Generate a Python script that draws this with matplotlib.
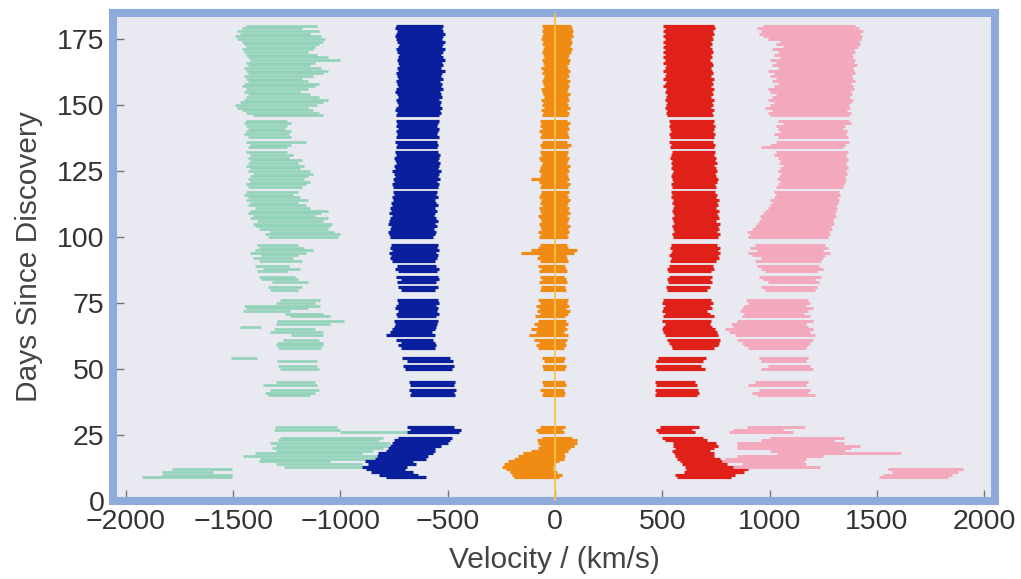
import numpy as np
import matplotlib
matplotlib.use("Agg")
import matplotlib.pyplot as plt

plt.rcParams['font.family'] = ['Liberation Sans', 'DejaVu Sans']

# observation days
days = [9, 10, 11, 12, 13, 14, 15, 16, 17, 18, 19, 20, 21, 22, 23, 24, 26, 27, 28,
        40, 41, 42, 44, 45,
        50, 51, 53, 54,
        58, 59, 60, 61, 63, 64, 65, 66, 67, 68, 70, 71, 72, 73, 74, 75, 76,
        80, 81, 83, 84, 85, 87, 88, 89, 91, 92, 93, 94, 95, 96, 97,
        100, 101, 102, 103, 104, 105, 106, 107, 108, 109, 110, 111, 112, 113, 114, 115, 116, 117,
        119, 120, 121, 122, 123, 124, 125, 126, 127, 128, 129, 130, 131, 132,
        134, 135, 136, 138, 139, 140, 141, 142, 143, 144,
        146, 147, 148, 149, 150, 151, 152, 153, 154, 155, 156, 157, 158, 159, 160, 161, 162,
        163, 164, 165, 166, 167, 168, 169, 170, 171, 172, 173, 174, 175, 176, 177, 178, 179, 180]

# fast blue-shifted component (green)
green_lo = [-1925, -1830, -1830, -1785, -1265, -1300, -1380, -1375, -1455, -1400, -1300, -1320, -1300, -1330, -1290, -1282, -1000, -1310, -1305,
            -1340, -1350, -1330, -1360, -1300,
            -1280, -1290, -1295, -1510,
            -1290, -1300, -1295, -1270, -1230, -1330, -1310, -1470, -1300, -1295, -1235, -1260, -1455, -1440, -1450, -1300, -1280,
            -1330, -1340, -1320, -1370, -1380, -1390, -1360, -1400, -1380, -1410, -1370, -1420, -1400, -1380, -1390,
            -1340, -1350, -1330, -1380, -1400, -1410, -1390, -1420, -1410, -1430, -1420, -1400, -1430, -1420, -1440, -1430, -1450, -1440,
            -1430, -1440, -1420, -1430, -1420, -1410, -1430, -1420, -1440, -1430, -1420, -1430, -1420, -1440,
            -1430, -1420, -1440, -1430, -1450, -1440, -1430, -1440, -1450, -1440,
            -1410, -1440, -1460, -1480, -1490, -1470, -1450, -1440, -1430, -1450, -1440, -1460, -1450, -1430, -1440, -1450, -1430,
            -1440, -1450, -1430, -1440, -1420, -1430, -1440, -1450, -1460, -1440, -1450, -1460, -1480, -1490, -1470, -1480, -1460, -1440]
green_hi = [-1505, -1505, -1595, -1505, -885, -900, -1050, -815, -830, -900, -850, -800, -780, -770, -820, -800, -680, -1000, -1017,
            -1140, -1120, -1100, -1110, -1120,
            -1100, -1110, -1110, -1390,
            -1090, -1080, -1080, -1100, -1080, -1080, -1120, -1370, -1050, -985, -1050, -1080, -1235, -1150, -1095, -1120, -1095,
            -1200, -1180, -1150, -1200, -1210, -1250, -1190, -1240, -1180, -1220, -1200, -1160, -1130, -1170, -1200,
            -1010, -1000, -1030, -1060, -1050, -1040, -1080, -1060, -1120, -1090, -1060, -1140, -1160, -1200, -1150, -1190, -1220, -1200,
            -1180, -1160, -1140, -1170, -1150, -1130, -1140, -1190, -1170, -1200, -1180, -1240, -1220, -1250,
            -1250, -1230, -1160, -1230, -1240, -1230, -1260, -1250, -1230, -1250,
            -1080, -1100, -1130, -1150, -1110, -1080, -1060, -1100, -1140, -1190, -1150, -1120, -1100, -1150, -1180, -1130, -1080,
            -1060, -1090, -1140, -1120, -1000, -1060, -1110, -1150, -1130, -1120, -1100, -1080, -1070, -1090, -1140, -1100, -1180, -1110]

# blue-shifted component (dark blue)
blue_lo = [-790, -820, -860, -880, -900, -870, -885, -840, -830, -825, -790, -780, -770, -760, -750, -730, -690, -675, -690,
           -675, -670, -680, -675, -680,
           -700, -710, -690, -715,
           -720, -730, -720, -740, -790, -770, -760, -750, -745, -750, -735, -740, -730, -745, -740, -730, -735,
           -720, -730, -735, -720, -740, -730, -745, -735, -760, -770, -765, -775, -760, -770, -765,
           -770, -775, -780, -770, -765, -780, -775, -770, -760, -775, -765, -770, -760, -765, -755, -760, -750, -755,
           -755, -760, -750, -755, -745, -750, -760, -745, -750, -740, -745, -750, -740, -745,
           -740, -735, -745, -740, -735, -740, -730, -740, -735, -740,
           -740, -735, -745, -740, -730, -735, -740, -730, -735, -745, -740, -730, -735, -740, -730, -735, -740,
           -730, -735, -725, -730, -735, -730, -725, -735, -740, -730, -725, -735, -740, -745, -740, -735, -745, -740]
blue_hi = [-600, -640, -660, -700, -690, -650, -660, -600, -590, -570, -560, -560, -530, -500, -490, -480, -450, -440, -470,
           -465, -470, -460, -470, -465,
           -480, -470, -475, -490,
           -560, -555, -560, -570, -560, -575, -560, -555, -550, -545, -555, -540, -550, -545, -555, -540, -545,
           -560, -545, -555, -540, -545, -550, -540, -555, -560, -550, -545, -555, -540, -550, -545,
           -570, -560, -555, -565, -550, -560, -545, -555, -565, -560, -550, -560, -545, -555, -560, -545, -555, -550,
           -545, -540, -550, -535, -545, -540, -530, -545, -540, -535, -545, -540, -535, -545,
           -550, -545, -550, -540, -550, -545, -540, -550, -545, -540,
           -540, -530, -535, -525, -535, -530, -540, -525, -530, -535, -520, -530, -525, -535, -520, -530, -525,
           -515, -530, -520, -525, -515, -520, -530, -520, -515, -525, -520, -515, -525, -520, -515, -520, -525, -520]

# central component (orange)
orange_lo = [-190, -200, -210, -230, -245, -240, -220, -190, -175, -150, -110, -80, -70, -80, -85, -60, -80, -90, -70,
             -60, -55, -70, -55, -60,
             -55, -60, -50, -60,
             -80, -90, -75, -100, -120, -90, -110, -85, -100, -80, -95, -70, -85, -75, -90, -70, -80,
             -70, -65, -75, -60, -70, -75, -65, -80, -70, -85, -75, -160, -110, -80, -70,
             -75, -70, -80, -65, -70, -75, -65, -70, -80, -65, -70, -75, -60, -70, -65, -75, -70, -65,
             -70, -65, -75, -110, -70, -65, -75, -70, -65, -60, -70, -75, -65, -70,
             -65, -70, -60, -70, -65, -75, -60, -70, -65, -70,
             -60, -55, -65, -50, -60, -55, -65, -50, -55, -60, -65, -50, -55, -60, -55, -50, -60,
             -55, -65, -50, -55, -60, -50, -55, -60, -55, -50, -60, -55, -65, -60, -55, -60, -55, -60]
orange_hi = [20, 30, 10, -10, -10, 0, 20, 40, 45, 40, 60, 70, 90, 100, 100, 80, 40, 30, 45,
             40, 45, 40, 50, 45,
             45, 50, 40, 45,
             40, 50, 45, 55, 60, 40, 55, 45, 60, 50, 45, 60, 70, 50, 65, 55, 60,
             50, 45, 55, 50, 40, 55, 50, 45, 60, 55, 50, 90, 100, 60, 55,
             60, 55, 65, 60, 70, 55, 60, 65, 55, 70, 60, 65, 55, 60, 70, 60, 55, 65,
             60, 70, 55, 65, 60, 55, 65, 60, 70, 55, 60, 65, 55, 60,
             60, 75, 55, 65, 60, 55, 65, 60, 70, 55,
             60, 65, 55, 70, 60, 55, 65, 60, 70, 55, 60, 65, 60, 70, 55, 65, 60,
             70, 60, 55, 65, 70, 60, 65, 75, 80, 70, 75, 80, 75, 85, 80, 85, 80, 75]

# red-shifted component (red)
red_lo = [570, 560, 600, 610, 605, 590, 580, 570, 560, 555, 545, 560, 550, 550, 510, 500, 480, 470, 490,
          465, 470, 465, 470, 465,
          470, 465, 470, 480,
          545, 540, 530, 520, 510, 505, 500, 505, 510, 500, 505, 510, 500, 505, 510, 500, 505,
          520, 515, 525, 520, 530, 525, 520, 530, 535, 540, 530, 540, 545, 535, 540,
          550, 545, 555, 550, 545, 555, 550, 545, 555, 550, 545, 550, 555, 545, 550, 540, 545, 540,
          545, 540, 550, 545, 540, 545, 550, 540, 545, 540, 545, 535, 540, 545,
          535, 540, 530, 535, 530, 540, 535, 530, 535, 530,
          520, 515, 520, 510, 515, 520, 510, 515, 520, 510, 515, 505, 510, 515, 505, 510, 515,
          505, 510, 515, 505, 510, 505, 510, 505, 510, 505, 510, 505, 510, 505, 510, 505, 510, 505]
red_hi = [820, 840, 880, 900, 890, 800, 780, 770, 740, 740, 720, 740, 760, 750, 710, 690, 650, 640, 670,
          660, 670, 665, 660, 650,
          700, 680, 690, 705,
          740, 760, 765, 770, 760, 755, 745, 730, 720, 725, 740, 720, 710, 730, 720, 735, 725,
          710, 720, 730, 720, 730, 725, 740, 735, 750, 765, 760, 770, 760, 770, 755,
          760, 770, 755, 765, 760, 770, 750, 765, 760, 755, 765, 750, 760, 755, 765, 750, 755, 745,
          750, 745, 755, 760, 750, 745, 755, 750, 740, 755, 745, 750, 740, 745,
          740, 745, 735, 740, 745, 735, 740, 745, 735, 740,
          735, 730, 740, 725, 735, 730, 740, 725, 735, 730, 740, 725, 735, 730, 740, 725, 735,
          730, 725, 735, 730, 720, 730, 725, 735, 730, 720, 730, 725, 735, 730, 740, 735, 745, 740]

# fast red-shifted component (pink)
pink_lo = [1510, 1530, 1570, 1550, 830, 870, 780, 790, 850, 1035, 1000, 850, 850, 850, 960, 1000, 810, 830, 895,
           940, 920, 950, 900, 930,
           960, 990, 960, 950,
           900, 880, 870, 850, 840, 810, 790, 830, 820, 850, 870, 880, 860, 870, 880, 900, 890,
           980, 960, 990, 970, 950, 980, 960, 940, 930, 960, 920, 900, 940, 910, 930,
           900, 910, 895, 920, 930, 940, 950, 960, 955, 970, 980, 990, 1000, 1010, 1000, 1020, 1030, 1020,
           1030, 1040, 1050, 1035, 1045, 1055, 1040, 1050, 1060, 1045, 1050, 1040, 1020, 1030,
           960, 1000, 1030, 1040, 1020, 1050, 1040, 1030, 1060, 1040,
           1000, 990, 1010, 980, 1000, 1020, 990, 1010, 1030, 1000, 990, 1020, 1040, 1010, 1030, 1000, 1020,
           990, 1040, 1010, 1030, 1000, 1050, 1020, 1040, 1010, 1060, 1030, 1050, 990, 970, 950, 960, 940, 970]
pink_hi = [1830, 1850, 1880, 1900, 1235, 1170, 1160, 1170, 1250, 1610, 1350, 1380, 1420, 1345, 1300, 1345, 1110, 1060, 1165,
           1210, 1180, 1190, 1170, 1180,
           1200, 1190, 1170, 1180,
           1170, 1180, 1190, 1200, 1210, 1190, 1200, 1180, 1170, 1200, 1190, 1160, 1180, 1200, 1170, 1190, 1180,
           1210, 1220, 1230, 1210, 1240, 1220, 1250, 1230, 1240, 1250, 1260, 1280, 1250, 1270, 1260,
           1270, 1280, 1275, 1290, 1285, 1300, 1295, 1300, 1310, 1305, 1310, 1315, 1310, 1320, 1325, 1320, 1330, 1325,
           1340, 1345, 1350, 1355, 1350, 1360, 1355, 1365, 1360, 1355, 1365, 1360, 1355, 1365,
           1340, 1350, 1370, 1365, 1355, 1360, 1340, 1350, 1380, 1370,
           1370, 1380, 1360, 1375, 1370, 1380, 1390, 1375, 1385, 1380, 1395, 1390, 1380, 1400, 1390, 1385, 1400,
           1395, 1390, 1405, 1395, 1400, 1390, 1385, 1400, 1395, 1410, 1420, 1415, 1425, 1430, 1420, 1435, 1415, 1400]

series = [
    (green_lo, green_hi, '#92d2b8', 1.9),
    (blue_lo, blue_hi, '#0a1f9e', 2.3),
    (orange_lo, orange_hi, '#f08c14', 2.3),
    (red_lo, red_hi, '#df2119', 2.3),
    (pink_lo, pink_hi, '#f4a8bc', 2.1),
]

fig = plt.figure(figsize=(10.21, 5.79), dpi=100)
ax = fig.add_axes([0.1107, 0.1347, 0.8638, 0.8437])
ax.set_facecolor('#e9e9f1')

for lo, hi, col, lw in series:
    ax.hlines(days, lo, hi, colors=col, linewidth=lw, capstyle='butt', zorder=2)

ax.axvline(0, color='#f7c04a', linewidth=1.3, zorder=3)

ax.set_xlim(-2060, 2050)
ax.set_ylim(0, 185)
ax.set_xticks([-2000, -1500, -1000, -500, 0, 500, 1000, 1500, 2000])
ax.set_yticks([0, 25, 50, 75, 100, 125, 150, 175])

for sp in ax.spines.values():
    sp.set_color('#8fabdc')
    sp.set_linewidth(5.8)

ax.tick_params(direction='in', length=8, width=1, color='#777777',
               labelsize=20.5, labelcolor='#333333', pad=6)

ax.set_xlabel('Velocity / (km/s)', fontsize=21.5, color='#444444', labelpad=8)
ax.set_ylabel('Days Since Discovery', fontsize=21.5, color='#444444', labelpad=10)

fig.savefig('out.png', dpi=100, facecolor='white')
